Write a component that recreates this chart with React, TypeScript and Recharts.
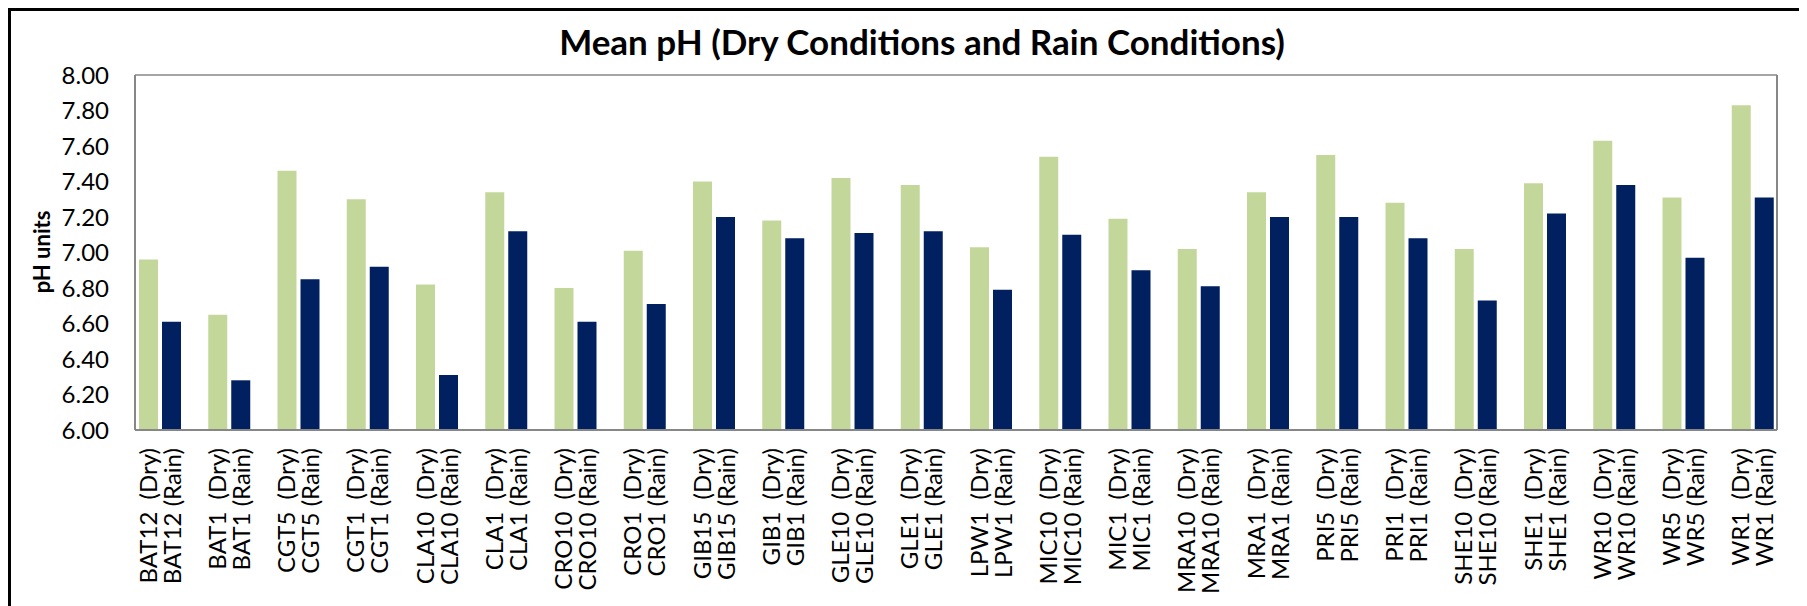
import React from "react";
import { BarChart, Bar, XAxis, YAxis, CartesianGrid } from "recharts";

const sites = [
  "BAT12", "BAT1", "CGT5", "CGT1", "CLA10", "CLA1", "CRO10", "CRO1",
  "GIB15", "GIB1", "GLE10", "GLE1", "LPW1", "MIC10", "MIC1", "MRA10",
  "MRA1", "PRI5", "PRI1", "SHE10", "SHE1", "WR10", "WR5", "WR1",
];

const dryValues = [
  6.96, 6.65, 7.46, 7.30, 6.82, 7.34, 6.80, 7.01,
  7.40, 7.18, 7.42, 7.38, 7.03, 7.54, 7.19, 7.02,
  7.34, 7.55, 7.28, 7.02, 7.39, 7.63, 7.31, 7.83,
];

const rainValues = [
  6.61, 6.28, 6.85, 6.92, 6.31, 7.12, 6.61, 6.71,
  7.20, 7.08, 7.11, 7.12, 6.79, 7.10, 6.90, 6.81,
  7.20, 7.20, 7.08, 6.73, 7.22, 7.38, 6.97, 7.31,
];

const yTicks = [6.0, 6.2, 6.4, 6.6, 6.8, 7.0, 7.2, 7.4, 7.6, 7.8, 8.0];

const title = "Mean pH (Dry Conditions and Rain Conditions)";
const yLabel = "pH units";

const data = sites.map((s, i) => ({ site: s, dry: dryValues[i], rain: rainValues[i] }));

const FONT = "Lato, 'Open Sans', sans-serif";

const SiteTick = (props: any) => {
  const { x, y, payload } = props;
  const s = payload.value;
  return (
    <g transform={`translate(${x},${y})`}>
      <text
        transform="rotate(-90)"
        textAnchor="end"
        fontFamily={FONT}
        fontSize={24}
        fill="#000"
        style={{ whiteSpace: "pre" }}
      >
        <tspan x={-18} y={-3}>{`${s}  (Dry)`}</tspan>
        <tspan x={-18} y={21}>{`${s} (Rain)`}</tspan>
      </text>
    </g>
  );
};

export default function App() {
  return (
    <div>
      <style>{"html,body{overflow:hidden;}"}</style>
      <div
        style={{
          position: "relative",
          width: 1789,
          height: 600,
          borderTop: "3px solid #000",
          borderLeft: "3px solid #000",
          borderRight: "3px solid #000",
          background: "#fff",
          overflow: "hidden",
        }}
      >
        <BarChart
          width={1789}
          height={595}
          data={data}
          margin={{ top: 64, right: 13, bottom: 0, left: 0 }}
          barGap={4}
          barCategoryGap={14}
        >
          <CartesianGrid horizontal={true} vertical={false} stroke="#878787" strokeWidth={1.5} />
          <XAxis
            dataKey="site"
            height={176}
            interval={0}
            tick={<SiteTick />}
            tickLine={false}
            tickSize={0}
            tickMargin={0}
            axisLine={{ stroke: "#878787", strokeWidth: 2 }}
            padding={{ left: -10, right: -10 }}
          />
          <YAxis
            yAxisId="left"
            width={124}
            domain={[6, 8]}
            ticks={yTicks}
            interval={0}
            tickFormatter={(v: number) => v.toFixed(2)}
            tick={{ fontFamily: FONT, fontSize: 24, fill: "#000" }}
            tickLine={false}
            tickSize={0}
            tickMargin={26}
            axisLine={{ stroke: "#878787", strokeWidth: 2 }}
          />
          <YAxis
            yAxisId="right"
            orientation="right"
            width={10}
            domain={[6, 8]}
            ticks={yTicks}
            tick={false}
            tickLine={false}
            axisLine={{ stroke: "#878787", strokeWidth: 2 }}
          />
          <Bar yAxisId="left" dataKey="dry" name="Dry" fill="#C4D79B" isAnimationActive={false} />
          <Bar yAxisId="left" dataKey="rain" name="Rain" fill="#002060" isAnimationActive={false} />
        </BarChart>
        <svg
          width={1789}
          height={595}
          style={{ position: "absolute", left: 0, top: 0, pointerEvents: "none" }}
        >
          <text x={911} y={44} textAnchor="middle" fontFamily={FONT} fontWeight="bold" fontSize={35} fill="#000">
            {title}
          </text>
          <text
            transform="translate(39,241) rotate(-90)"
            textAnchor="middle"
            fontFamily={FONT}
            fontWeight="bold"
            fontSize={22}
            fill="#000"
          >
            {yLabel}
          </text>
        </svg>
      </div>
    </div>
  );
}
